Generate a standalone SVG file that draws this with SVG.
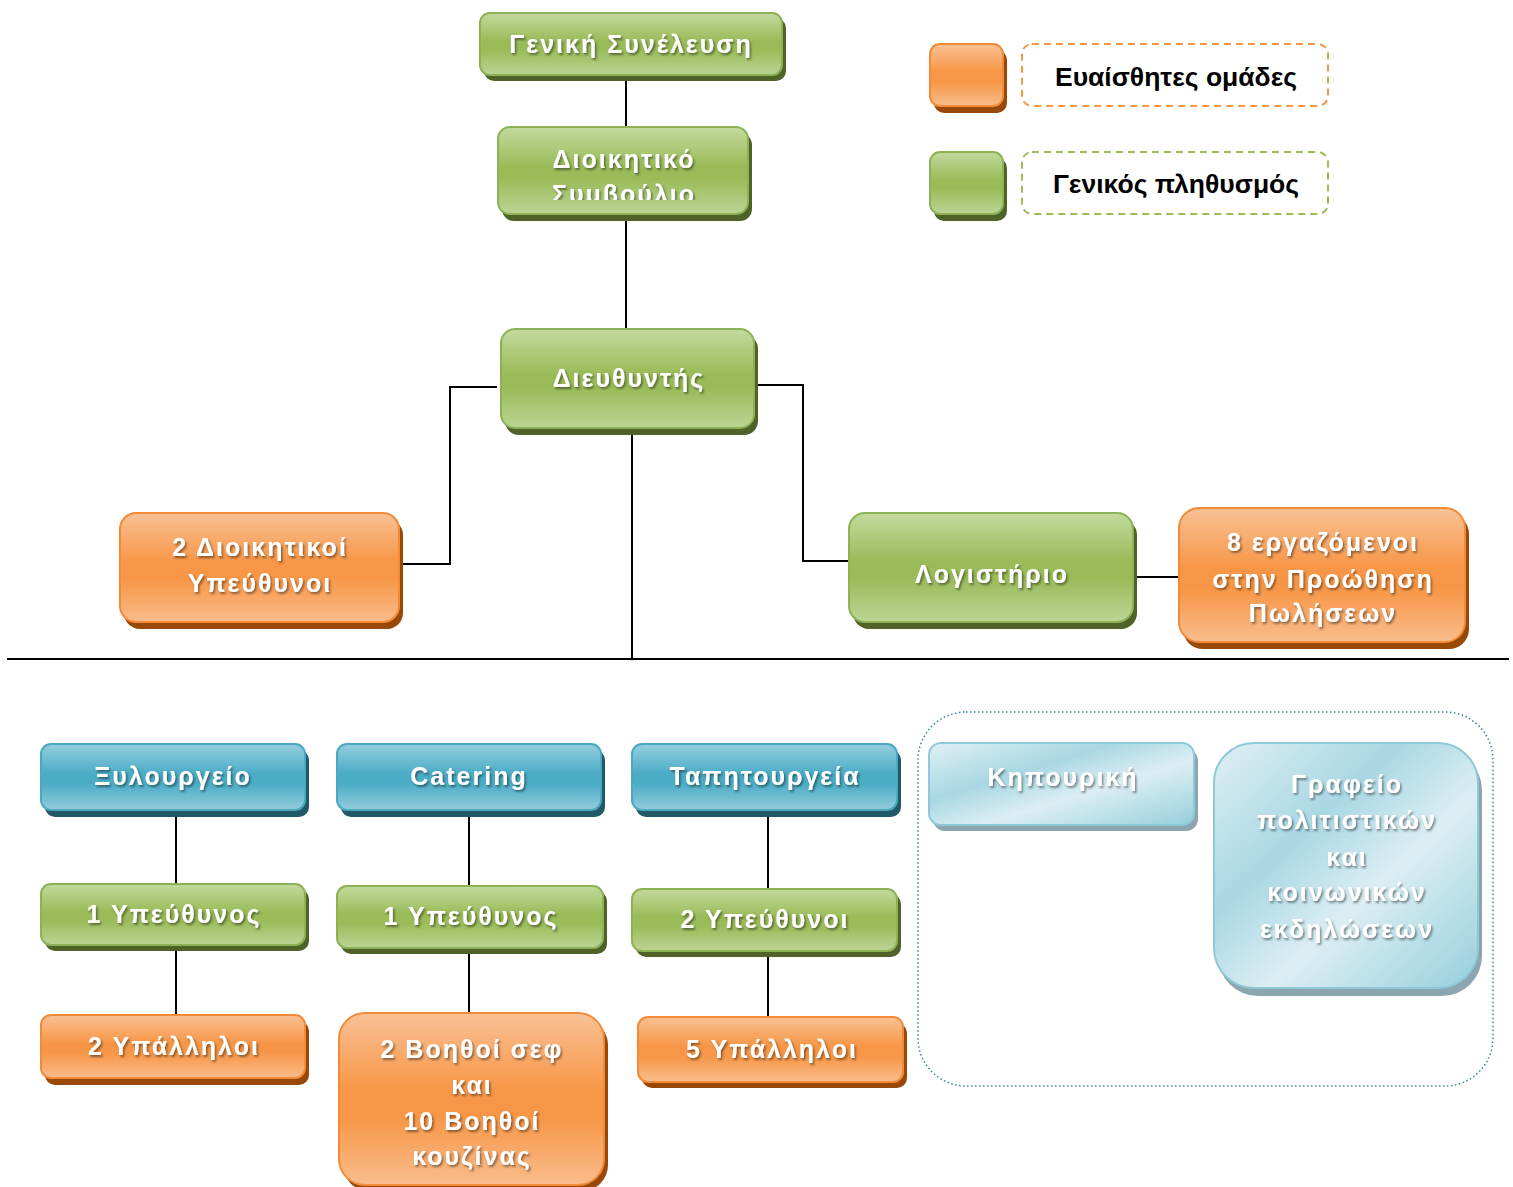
<svg xmlns="http://www.w3.org/2000/svg" width="1513" height="1187" viewBox="0 0 1513 1187">
<defs>
<linearGradient id="gG" x1="0" y1="0" x2="0" y2="1"><stop offset="0" stop-color="#c3da9e"/><stop offset="0.45" stop-color="#9bbb59"/><stop offset="0.6" stop-color="#9bbb59"/><stop offset="1" stop-color="#bcd595"/></linearGradient>
<linearGradient id="gO" x1="0" y1="0" x2="0" y2="1"><stop offset="0" stop-color="#f9c195"/><stop offset="0.45" stop-color="#f79646"/><stop offset="0.6" stop-color="#f79646"/><stop offset="1" stop-color="#f9bd8c"/></linearGradient>
<linearGradient id="gB" x1="0" y1="0" x2="0" y2="1"><stop offset="0" stop-color="#95cfde"/><stop offset="0.45" stop-color="#4bacc6"/><stop offset="0.6" stop-color="#4bacc6"/><stop offset="1" stop-color="#93cddd"/></linearGradient>
<linearGradient id="gL" x1="0" y1="0" x2="1" y2="1"><stop offset="0" stop-color="#dff0f4"/><stop offset="0.35" stop-color="#a9d7e4"/><stop offset="0.6" stop-color="#dceef3"/><stop offset="1" stop-color="#96cfdd"/></linearGradient>
<filter id="ts" x="-10%" y="-30%" width="120%" height="160%"><feDropShadow dx="1.5" dy="2" stdDeviation="1" flood-color="#000" flood-opacity="0.45"/></filter>
<clipPath id="cDS"><rect x="498" y="127" width="250" height="73"/></clipPath>
</defs>
<style>
.g{fill:url(#gG);stroke:#8db255;stroke-width:2}
.gs{fill:#4f6228}
.o{fill:url(#gO);stroke:#f38a38;stroke-width:2}
.os{fill:#984807}
.b{fill:url(#gB);stroke:#4ba8c0;stroke-width:2}
.bs{fill:#215968}
.l{fill:url(#gL);stroke:#8fc9d8;stroke-width:2}
.ls{fill:#8ba6ae}
.t{font-family:"Liberation Sans",Arial,sans-serif;font-weight:bold;font-size:25px;fill:#fff;text-anchor:middle;letter-spacing:2px;filter:url(#ts)}
.lt{font-family:"Liberation Sans",Arial,sans-serif;font-weight:bold;font-size:26.5px;fill:#000;text-anchor:middle}
.c{stroke:#000;stroke-width:2;fill:none}
</style>
<rect width="1513" height="1187" fill="#fff"/>
<g id="connectors">
<line class="c" x1="626" y1="78" x2="626" y2="128"/>
<line class="c" x1="626" y1="218" x2="626" y2="330"/>
<line class="c" x1="632" y1="430" x2="632" y2="659"/>
<polyline class="c" points="497,387 450,387 450,564 403,564"/>
<polyline class="c" points="758,385 803,385 803,561 849,561"/>
<line class="c" x1="1135" y1="577" x2="1180" y2="577"/>
<line class="c" x1="7" y1="659" x2="1509" y2="659"/>
<line class="c" x1="176" y1="815" x2="176" y2="885"/>
<line class="c" x1="469" y1="815" x2="469" y2="887"/>
<line class="c" x1="768" y1="815" x2="768" y2="890"/>
<line class="c" x1="176" y1="948" x2="176" y2="1016"/>
<line class="c" x1="469" y1="950" x2="469" y2="1014"/>
<line class="c" x1="768" y1="953" x2="768" y2="1018"/>
</g>
<g id="legend-orange">
<rect class="os" x="934" y="50" width="73" height="63" rx="10"/>
<rect class="o" x="930" y="44" width="73" height="62" rx="10"/>
<rect x="1022" y="44" width="306" height="62" rx="10" fill="none" stroke="#f79646" stroke-width="2" stroke-dasharray="7,5"/>
<text class="lt" x="1176" y="86">Ευαίσθητες ομάδες</text>
</g>
<g id="legend-green">
<rect class="gs" x="934" y="158" width="73" height="63" rx="10"/>
<rect class="g" x="930" y="152" width="73" height="62" rx="10"/>
<rect x="1022" y="152" width="306" height="62" rx="10" fill="none" stroke="#9bbb59" stroke-width="2" stroke-dasharray="7,5"/>
<text class="lt" x="1176" y="193">Γενικός πληθυσμός</text>
</g>
<g id="geniki">
<rect class="gs" x="484" y="18" width="302" height="63" rx="10"/>
<rect class="g" x="480" y="13" width="302" height="62" rx="10"/>
<text class="t" x="631" y="53">Γενική Συνέλευση</text>
</g>
<g id="dioikitiko">
<rect class="gs" x="502" y="133" width="250" height="88" rx="12"/>
<rect class="g" x="498" y="127" width="250" height="87" rx="12"/>
<g clip-path="url(#cDS)">
<text class="t" x="624" y="168">Διοικητικό</text>
<text class="t" x="624" y="203">Συμβούλιο</text>
</g>
</g>
<g id="diefthyntis">
<rect class="gs" x="505" y="335" width="253" height="100" rx="14"/>
<rect class="g" x="501" y="329" width="253" height="99" rx="14"/>
<text class="t" x="629" y="387">Διευθυντής</text>
</g>
<g id="dioikitikoi">
<rect class="os" x="124" y="519" width="279" height="110" rx="16"/>
<rect class="o" x="120" y="513" width="279" height="109" rx="16"/>
<text class="t" x="260" y="556">2 Διοικητικοί</text>
<text class="t" x="260" y="592">Υπεύθυνοι</text>
</g>
<g id="logistirio">
<rect class="gs" x="853" y="519" width="284" height="110" rx="16"/>
<rect class="g" x="849" y="513" width="284" height="109" rx="16"/>
<text class="t" x="992" y="583">Λογιστήριο</text>
</g>
<g id="ergazomenoi">
<rect class="os" x="1183" y="514" width="286" height="135" rx="20"/>
<rect class="o" x="1179" y="508" width="286" height="134" rx="20"/>
<text class="t" x="1323" y="551">8 εργαζόμενοι</text>
<text class="t" x="1323" y="588">στην Προώθηση</text>
<text class="t" x="1323" y="622">Πωλήσεων</text>
</g>
<g id="xylourgeio">
<rect class="bs" x="45" y="750" width="264" height="67" rx="10"/>
<rect class="b" x="41" y="744" width="264" height="66" rx="10"/>
<text class="t" x="173" y="785">Ξυλουργείο</text>
</g>
<g id="catering">
<rect class="bs" x="341" y="750" width="264" height="67" rx="10"/>
<rect class="b" x="337" y="744" width="264" height="66" rx="10"/>
<text class="t" x="469" y="785">Catering</text>
</g>
<g id="tapitourgeia">
<rect class="bs" x="636" y="750" width="265" height="67" rx="10"/>
<rect class="b" x="632" y="744" width="265" height="66" rx="10"/>
<text class="t" x="765" y="785">Ταπητουργεία</text>
</g>
<g id="ypef1">
<rect class="gs" x="45" y="889" width="264" height="62" rx="10"/>
<rect class="g" x="41" y="884" width="264" height="61" rx="10"/>
<text class="t" x="174" y="923">1 Υπεύθυνος</text>
</g>
<g id="ypef2">
<rect class="gs" x="341" y="891" width="266" height="63" rx="10"/>
<rect class="g" x="337" y="886" width="266" height="62" rx="10"/>
<text class="t" x="471" y="925">1 Υπεύθυνος</text>
</g>
<g id="ypef3">
<rect class="gs" x="636" y="894" width="265" height="63" rx="10"/>
<rect class="g" x="632" y="889" width="265" height="62" rx="10"/>
<text class="t" x="765" y="928">2 Υπεύθυνοι</text>
</g>
<g id="ypalliloi2">
<rect class="os" x="45" y="1021" width="264" height="64" rx="10"/>
<rect class="o" x="41" y="1015" width="264" height="63" rx="10"/>
<text class="t" x="174" y="1055">2 Υπάλληλοι</text>
</g>
<g id="voithoi">
<rect class="os" x="343" y="1019" width="265" height="172" rx="26"/>
<rect class="o" x="339" y="1013" width="265" height="172" rx="26"/>
<text class="t" x="472" y="1058">2 Βοηθοί σεφ</text>
<text class="t" x="472" y="1094">και</text>
<text class="t" x="472" y="1130">10 Βοηθοί</text>
<text class="t" x="472" y="1165">κουζίνας</text>
</g>
<g id="ypalliloi5">
<rect class="os" x="642" y="1023" width="265" height="65" rx="10"/>
<rect class="o" x="638" y="1017" width="265" height="65" rx="10"/>
<text class="t" x="772" y="1058">5 Υπάλληλοι</text>
</g>
<g id="group-box">
<rect x="918" y="712" width="575" height="374" rx="48" fill="none" stroke="#31859c" stroke-width="1.5" stroke-dasharray="1.5,2.5"/>
</g>
<g id="kipouriki">
<rect class="ls" x="933" y="749" width="265" height="82" rx="12"/>
<rect class="l" x="929" y="743" width="265" height="82" rx="12"/>
<text class="t" x="1063" y="786">Κηπουρική</text>
</g>
<g id="grafeio">
<rect class="ls" x="1218" y="750" width="264" height="246" rx="40"/>
<rect class="l" x="1214" y="743" width="264" height="245" rx="40"/>
<text class="t" x="1347" y="793">Γραφείο</text>
<text class="t" x="1347" y="829">πολιτιστικών</text>
<text class="t" x="1347" y="866">και</text>
<text class="t" x="1347" y="901">κοινωνικών</text>
<text class="t" x="1347" y="938">εκδηλώσεων</text>
</g>
</svg>
